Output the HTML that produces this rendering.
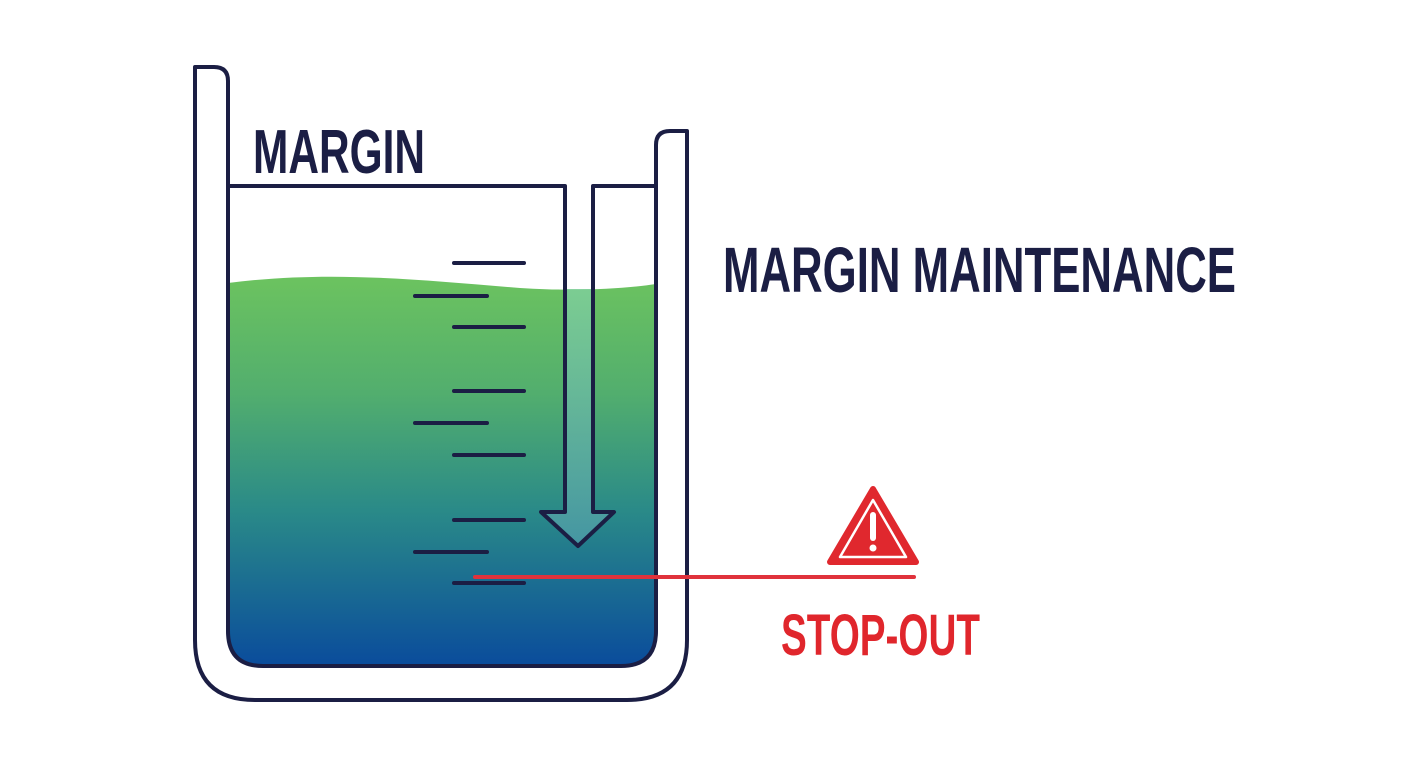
<!DOCTYPE html>
<html><head><meta charset="utf-8"><style>
html,body{margin:0;padding:0;background:#fff;width:1408px;height:768px;overflow:hidden}
</style></head><body>
<svg width="1408" height="768" viewBox="0 0 1408 768" xmlns="http://www.w3.org/2000/svg">
<defs>
<linearGradient id="liq" x1="0" y1="0" x2="0" y2="1">
<stop offset="0" stop-color="#6cc35f"/>
<stop offset="0.3" stop-color="#52ae6e"/>
<stop offset="0.6" stop-color="#2a8a88"/>
<stop offset="1" stop-color="#0a4c9c"/>
</linearGradient>
<linearGradient id="sh" x1="0" y1="0" x2="0" y2="1">
<stop offset="0" stop-color="#7fcf9a"/>
<stop offset="1" stop-color="#4b9aa6"/>
</linearGradient>
</defs>
<rect width="1408" height="768" fill="#fff"/>
<!-- liquid -->
<path d="M228,283 C330,270 420,280 520,288 C580,292 630,288 656,284 L656,631 Q656,666 621,666 L263,666 Q228,666 228,631 Z" fill="url(#liq)"/>
<!-- arrow fill -->
<path d="M565,289 L593,289 L593,512 L614,512 L578,546 L541,512 L565,512 Z" fill="url(#sh)" opacity="0.85"/>
<g fill="none" stroke="#1b1e44" stroke-width="4" stroke-linejoin="round">
<!-- outer container -->
<path d="M195,67 L214,67 Q228,67 228,81 L228,631 Q228,666 263,666 L621,666 Q656,666 656,631 L656,145 Q656,131 670,131 L687,131 L687,640 Q687,700 627,700 L255,700 Q195,700 195,640 Z"/>
<path d="M228,186 L565,186 L565,512 L541,512 L578,546 L614,512 L593,512 L593,186 L656,186"/>
</g>
<g stroke="#1b1e44" stroke-width="4" stroke-linecap="round">
<line x1="454" y1="263" x2="524" y2="263"/>
<line x1="415" y1="296" x2="487" y2="296"/>
<line x1="454" y1="327" x2="524" y2="327"/>
<line x1="454" y1="391" x2="524" y2="391"/>
<line x1="415" y1="423" x2="487" y2="423"/>
<line x1="454" y1="455" x2="524" y2="455"/>
<line x1="454" y1="520" x2="524" y2="520"/>
<line x1="415" y1="552" x2="487" y2="552"/>
<line x1="454" y1="583" x2="524" y2="583"/>
</g>
<line x1="475" y1="577" x2="914" y2="577" stroke="#e0323c" stroke-width="4" stroke-linecap="round"/>
<!-- warning -->
<path d="M873,489 L916,562 L830,562 Z" fill="#e0282e" stroke="#e0282e" stroke-width="6" stroke-linejoin="round"/>
<path d="M873,500 L906,557 L840,557 Z" fill="none" stroke="#fff" stroke-width="2.5" stroke-linejoin="round"/>
<line x1="873" y1="515" x2="873" y2="538" stroke="#fff" stroke-width="6" stroke-linecap="round"/>
<circle cx="873" cy="548" r="3.5" fill="#fff"/>
<g font-family="Liberation Sans, sans-serif" font-weight="bold">
<text x="253" y="173" font-size="62" fill="#1b1e44" textLength="172" lengthAdjust="spacingAndGlyphs">MARGIN</text>
<text x="723" y="292" font-size="64" fill="#1b1e44" textLength="513" lengthAdjust="spacingAndGlyphs">MARGIN MAINTENANCE</text>
<text x="781" y="655" font-size="58" fill="#e0262c" textLength="199" lengthAdjust="spacingAndGlyphs">STOP-OUT</text>
</g>
</svg>
</body></html>
